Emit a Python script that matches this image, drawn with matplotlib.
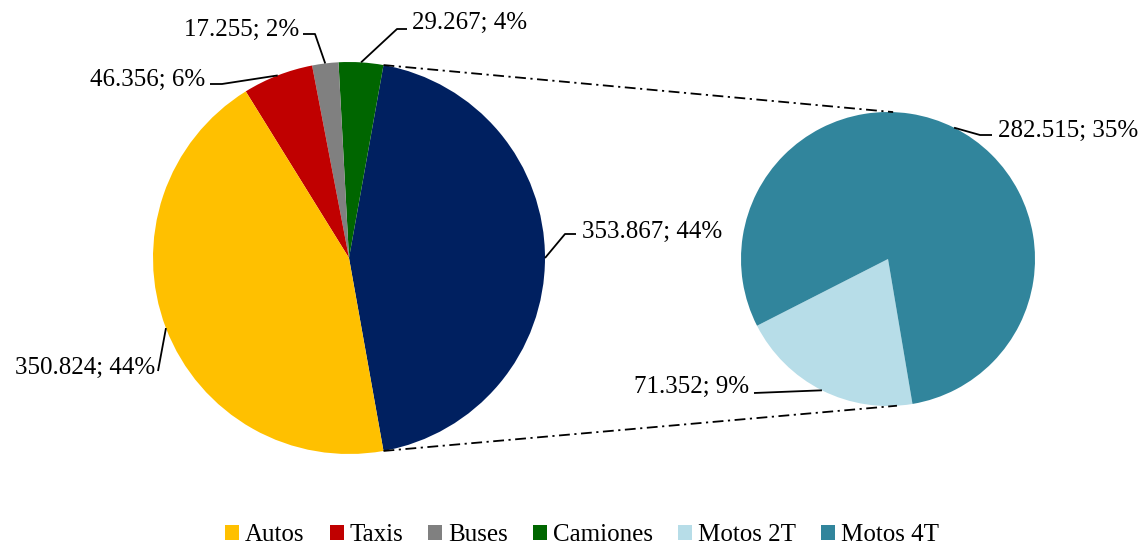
import matplotlib
matplotlib.use("Agg")
import matplotlib.pyplot as plt
from matplotlib.patches import Patch
import numpy as np

# data (vehicle counts)
categories = ["Autos", "Taxis", "Buses", "Camiones", "Motos 2T", "Motos 4T"]
values = [350824, 46356, 17255, 29267, 71352, 282515]
colors = ["#FFC000", "#C00000", "#808080", "#006600", "#B7DDE8", "#31859C"]
motos_color = "#002060"

plt.rcParams["font.family"] = ["Liberation Serif", "DejaVu Serif"]
FS = 18

W, H = 1145, 548
total = sum(values)


def fmt(v):
    return f"{v:,}".replace(",", ".") + f"; {round(100 * v / total):.0f}%"


fig = plt.figure(figsize=(W / 100, H / 100), dpi=100)
ax = fig.add_axes([0, 0, 1, 1])

# main pie: Motos combined first, centered on the right side
motos_total = values[4] + values[5]
main_vals = [motos_total, values[3], values[2], values[1], values[0]]
main_cols = [motos_color, colors[3], colors[2], colors[1], colors[0]]
main_c, main_r = (349, H - 258), 196
motos_deg = 360 * motos_total / total
main_wedges, _ = ax.pie(main_vals, colors=main_cols, startangle=-motos_deg / 2,
                        center=main_c, radius=main_r, wedgeprops=dict(linewidth=0))

# secondary pie: the two motos types
sec_vals = [values[4], values[5]]
sec_c, sec_r = (888, H - 259), 147
sec_wedges, _ = ax.pie(sec_vals, colors=[colors[4], colors[5]], startangle=207,
                       center=sec_c, radius=sec_r, wedgeprops=dict(linewidth=0))

ax.set_xlim(0, W)
ax.set_ylim(0, H)
ax.set_aspect("equal")
ax.axis("off")


def edge_point(c, r, ang):
    a = np.deg2rad(ang)
    return c[0] + r * np.cos(a), c[1] + r * np.sin(a)


# connector lines between the pies
mw = main_wedges[0]
for a_main, a_sec in [(mw.theta2, 88), (mw.theta1, -86.5)]:
    p1 = edge_point(main_c, main_r, a_main)
    p2 = edge_point(sec_c, sec_r, a_sec)
    ax.plot([p1[0], p2[0]], [p1[1], p2[1]], color="black", lw=1.3,
            dashes=(6, 2.5, 1.2, 2.5))

# data labels: (wedge, value, centre, radius, text x, text y, ha, leader points)
label_specs = [
    (main_wedges[4], values[0], main_c, main_r, 155, 365, "right", [(158, 371)]),
    (main_wedges[3], values[1], main_c, main_r, 205, 77, "right", [(222, 84), (210, 84)]),
    (main_wedges[2], values[2], main_c, main_r, 299, 27, "right", [(315, 34), (303, 34)]),
    (main_wedges[1], values[3], main_c, main_r, 412, 20, "left", [(397, 29), (407, 29)]),
    (main_wedges[0], motos_total, main_c, main_r, 582, 229, "left", [(565, 234), (576, 234)]),
    (sec_wedges[0], values[4], sec_c, sec_r, 749, 384, "right", [(754, 393)]),
    (sec_wedges[1], values[5], sec_c, sec_r, 998, 128, "left", [(980, 135), (992, 135)]),
]

for wedge, v, c, r, tx, ty, ha, pts in label_specs:
    mid = (wedge.theta1 + wedge.theta2) / 2
    ex, ey = edge_point(c, r, mid)
    xs = [ex] + [p[0] for p in pts]
    ys = [ey] + [H - p[1] for p in pts]
    ax.plot(xs, ys, color="black", lw=1.3, solid_capstyle="butt")
    ax.text(tx, H - ty - 2.5, fmt(v), ha=ha, va="center", fontsize=FS)

handles = [Patch(facecolor=col, edgecolor="none") for col in colors]
fig.legend(handles, categories, loc="center", bbox_to_anchor=(582 / W, 13 / H),
           ncol=6, frameon=False, fontsize=FS, handlelength=0.56, handleheight=0.56,
           handletextpad=0.24, columnspacing=1.0, borderaxespad=0, borderpad=0)

fig.savefig("out.png", dpi=100)
